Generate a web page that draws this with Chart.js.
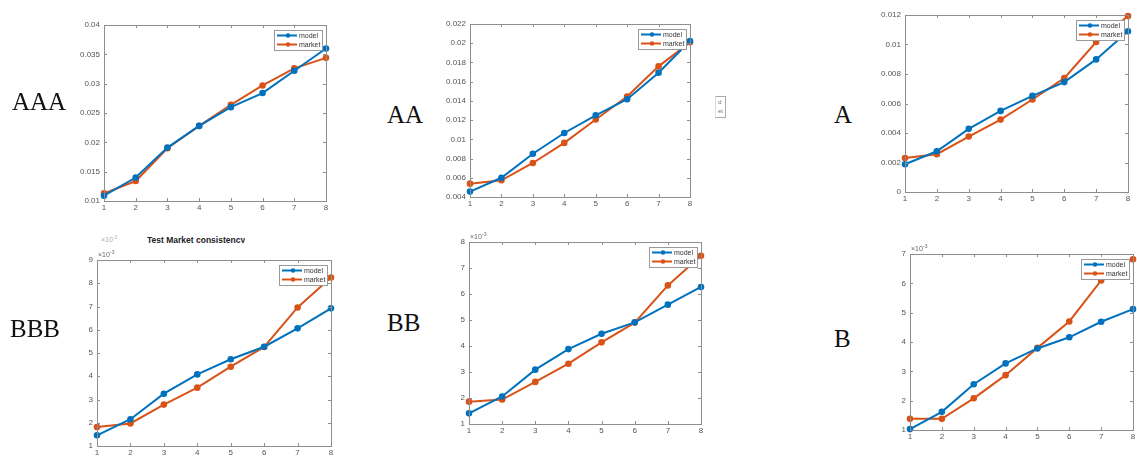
<!DOCTYPE html>
<html>
<head>
<meta charset="utf-8">
<script src="https://cdn.jsdelivr.net/npm/chart.js@4"></script>
<style>
  html, body { margin:0; padding:0; background:#fff; }
  body { width:1137px; height:457px; overflow:hidden; position:relative; font-family:"Liberation Sans", Arial, sans-serif; }
  canvas { position:absolute; }
  .rating { position:absolute; font-family:"Liberation Serif", "DejaVu Serif", serif; font-size:25px; color:#111; line-height:1; }
  .title { position:absolute; font-weight:bold; font-size:8.5px; color:#222; white-space:nowrap; overflow:hidden; }
  .faint { position:absolute; font-size:7px; color:#aaa; white-space:nowrap; }
  .stub { position:absolute; border:1px solid #aaa; border-left-color:#ddd; background:#fff; font-size:6px; color:#777; line-height:9px; padding:1px 2px; width:5px; }
</style>
</head>
<body>
<script>
// ---------- data ----------
const categories = [1, 2, 3, 4, 5, 6, 7, 8];
const seriesNames = ['model', 'market'];
const ratingNames = ['AAA', 'AA', 'A', 'BBB', 'BB', 'B'];

const aaaModel  = [0.0109, 0.0140, 0.0191, 0.0228, 0.0260, 0.0284, 0.0322, 0.0360];
const aaaMarket = [0.0113, 0.0134, 0.0190, 0.0228, 0.0264, 0.0297, 0.0326, 0.0344];

const aaModel  = [0.00456, 0.00600, 0.00850, 0.01066, 0.01250, 0.01417, 0.01693, 0.02023];
const aaMarket = [0.00539, 0.00574, 0.00754, 0.00963, 0.01207, 0.01446, 0.01759, 0.02010];

const aModel  = [0.00188, 0.00276, 0.00428, 0.00550, 0.00652, 0.00745, 0.00899, 0.01089];
const aMarket = [0.00231, 0.00256, 0.00376, 0.00491, 0.00627, 0.00772, 0.01017, 0.01193];

const bbbModel  = [1.46e-3, 2.15e-3, 3.25e-3, 4.08e-3, 4.73e-3, 5.27e-3, 6.06e-3, 6.92e-3];
const bbbMarket = [1.82e-3, 1.97e-3, 2.78e-3, 3.51e-3, 4.41e-3, 5.26e-3, 6.96e-3, 8.25e-3];

const bbModel  = [1.41e-3, 2.06e-3, 3.09e-3, 3.88e-3, 4.47e-3, 4.91e-3, 5.59e-3, 6.27e-3];
const bbMarket = [1.86e-3, 1.94e-3, 2.62e-3, 3.32e-3, 4.14e-3, 4.90e-3, 6.33e-3, 7.47e-3];

const bModel  = [1.03e-3, 1.62e-3, 2.56e-3, 3.27e-3, 3.78e-3, 4.16e-3, 4.69e-3, 5.12e-3];
const bMarket = [1.38e-3, 1.38e-3, 2.08e-3, 2.87e-3, 3.80e-3, 4.70e-3, 6.10e-3, 6.82e-3];

// y-axis tick ranges (min, max, step)
const aaaYTicks = [0.01, 0.04, 0.005];
const aaYTicks  = [0.004, 0.022, 0.002];
const aYTicks   = [0, 0.012, 0.002];
const bbbYTicks = [1e-3, 9e-3, 1e-3];
const bbYTicks  = [1e-3, 8e-3, 1e-3];
const bYTicks   = [1e-3, 7e-3, 1e-3];

// ---------- layout ----------
const panels = [
  { name: ratingNames[0], model: aaaModel, market: aaaMarket, yt: aaaYTicks, exp: false, L:104, T:25,  R:326,  B:201, lab:[12, 89] },
  { name: ratingNames[1], model: aaModel,  market: aaMarket,  yt: aaYTicks,  exp: false, L:470, T:24,  R:690,  B:197, lab:[387, 102] },
  { name: ratingNames[2], model: aModel,   market: aMarket,   yt: aYTicks,   exp: false, L:905, T:15,  R:1128, B:192, lab:[834, 102] },
  { name: ratingNames[3], model: bbbModel, market: bbbMarket, yt: bbbYTicks, exp: true,  L:97,  T:260, R:331,  B:446, lab:[10, 316] },
  { name: ratingNames[4], model: bbModel,  market: bbMarket,  yt: bbYTicks,  exp: true,  L:469, T:242, R:701,  B:424, lab:[387, 310] },
  { name: ratingNames[5], model: bModel,   market: bMarket,   yt: bYTicks,   exp: true,  L:910, T:254, R:1133, B:430, lab:[834, 326] },
];
const colors = ['#0072BD', '#D95319'];
const axisColor = '#8e8e8e';
const ML = 40, MT = 14, MR = 8, MB = 18;

const boxPlugin = {
  id: 'matlabBox',
  afterDraw(chart, args, opts) {
    const { ctx, chartArea: a, scales } = chart;
    ctx.save();
    ctx.strokeStyle = axisColor;
    ctx.lineWidth = 1;
    ctx.strokeRect(Math.round(a.left) + 0.5, Math.round(a.top) + 0.5, Math.round(a.right - a.left), Math.round(a.bottom - a.top));
    const tl = 3;
    ctx.beginPath();
    scales.x.ticks.forEach(t => {
      const px = Math.round(scales.x.getPixelForValue(t.value)) + 0.5;
      ctx.moveTo(px, a.bottom); ctx.lineTo(px, a.bottom - tl);
      ctx.moveTo(px, a.top); ctx.lineTo(px, a.top + tl);
    });
    scales.y.ticks.forEach(t => {
      const py = Math.round(scales.y.getPixelForValue(t.value)) + 0.5;
      ctx.moveTo(a.left, py); ctx.lineTo(a.left + tl, py);
      ctx.moveTo(a.right, py); ctx.lineTo(a.right - tl, py);
    });
    ctx.stroke();
    // exponent label
    if (opts.exp) {
      ctx.fillStyle = '#666';
      ctx.font = '7px "Liberation Sans", Arial, sans-serif';
      ctx.textBaseline = 'alphabetic';
      ctx.fillText('\u00d710', a.left + 1, a.top - 3);
      ctx.font = '5px "Liberation Sans", Arial, sans-serif';
      ctx.fillText('-3', a.left + 13, a.top - 6);
    }
    // legend
    const w = 48, h = 20;
    const x = a.right - w - 4, y = a.top + 5;
    ctx.fillStyle = '#fff';
    ctx.fillRect(x, y, w, h);
    ctx.strokeStyle = '#9a9a9a';
    ctx.lineWidth = 1;
    ctx.strokeRect(Math.round(x) + 0.5, Math.round(y) + 0.5, w, h);
    chart.data.datasets.forEach((ds, i) => {
      const cy = y + 5.5 + i * 9;
      ctx.strokeStyle = ds.borderColor;
      ctx.lineWidth = 2;
      ctx.beginPath(); ctx.moveTo(x + 3, cy); ctx.lineTo(x + 23, cy); ctx.stroke();
      ctx.fillStyle = ds.borderColor;
      ctx.beginPath(); ctx.arc(x + 14, cy, 2.3, 0, Math.PI * 2); ctx.fill();
      ctx.fillStyle = '#333';
      ctx.font = '7px "Liberation Sans", Arial, sans-serif';
      ctx.textBaseline = 'middle';
      ctx.fillText(ds.label, x + 25, cy + 0.5);
    });
    ctx.restore();
  }
};

panels.forEach(p => {
  const cv = document.createElement('canvas');
  const W = (p.R - p.L) + ML + MR, H = (p.B - p.T) + MT + MB;
  cv.width = W; cv.height = H;
  cv.style.left = (p.L - ML) + 'px';
  cv.style.top = (p.T - MT) + 'px';
  cv.style.width = W + 'px'; cv.style.height = H + 'px';
  document.body.appendChild(cv);

  const lab = document.createElement('div');
  lab.className = 'rating';
  lab.textContent = p.name;
  lab.style.left = p.lab[0] + 'px';
  lab.style.top = p.lab[1] + 'px';
  document.body.appendChild(lab);

  const mk = (arr) => arr.map((v, i) => ({ x: categories[i], y: v }));
  const ds = (k, arr) => ({
    label: seriesNames[k], data: mk(arr), borderColor: colors[k], backgroundColor: colors[k], borderWidth: 2,
    pointRadius: 2.6, pointBorderWidth: 1.4, pointBackgroundColor: colors[k], pointBorderColor: colors[k],
    tension: 0, clip: false
  });
  new Chart(cv, {
    type: 'line',
    data: { datasets: [ ds(0, p.model), ds(1, p.market) ] },
    options: {
      responsive: false, animation: false, devicePixelRatio: 1,
      layout: { padding: { top: MT, right: MR, left: 0, bottom: 0 } },
      plugins: { legend: { display: false }, tooltip: { enabled: false }, matlabBox: { exp: p.exp } },
      scales: {
        x: {
          type: 'linear', min: 1, max: 8,
          ticks: { stepSize: 1, color: '#555', font: { size: 8, family: '"Liberation Sans", Arial, sans-serif' }, padding: 2, maxRotation: 0 },
          grid: { display: false, drawTicks: false }, border: { display: false },
          afterFit: s => { s.height = MB; }
        },
        y: {
          min: p.yt[0], max: p.yt[1],
          ticks: { stepSize: p.yt[2], color: '#555', font: { size: 8, family: '"Liberation Sans", Arial, sans-serif' }, padding: 4,
            callback: v => p.exp ? String(Math.round(v * 1000)) : String(+v.toFixed(4)) },
          grid: { display: false, drawTicks: false }, border: { display: false },
          afterFit: s => { s.width = ML; }
        }
      }
    },
    plugins: [boxPlugin]
  });
});

// extra annotations
const t = document.createElement('div');
t.className = 'title';
t.textContent = 'Test Market consistency';
t.style.left = '147px'; t.style.top = '236px'; t.style.height = '7px'; t.style.lineHeight = '9px';
document.body.appendChild(t);

const f = document.createElement('div');
f.className = 'faint';
f.innerHTML = '&nbsp;\u00d710<sup style="font-size:5px">-3</sup>';
f.style.left = '99px'; f.style.top = '234px'; f.style.height = '8px'; f.style.overflow = 'hidden';
document.body.appendChild(f);

const s = document.createElement('div');
s.className = 'stub';
s.innerHTML = 'd<br>et';
s.style.left = '715px'; s.style.top = '96px';
document.body.appendChild(s);
</script>
</body>
</html>
